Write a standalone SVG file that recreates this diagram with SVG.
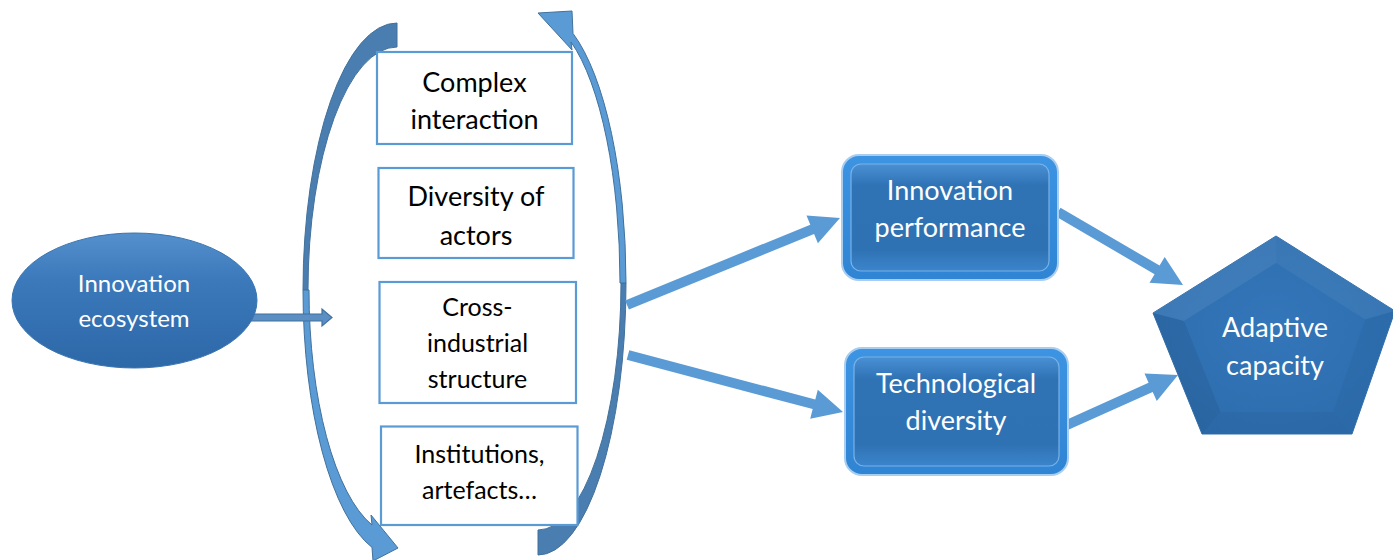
<svg xmlns="http://www.w3.org/2000/svg" width="1393" height="560" viewBox="0 0 1393 560">
<style>
  .lbl { font-family: Lato, "Liberation Sans", sans-serif; font-size: 27px; fill: #000; text-anchor: middle; }
  .wlbl { font-family: Lato, "Liberation Sans", sans-serif; font-size: 27px; fill: #fff; text-anchor: middle; }
  .box { fill: #fff; stroke: #5b9bd5; stroke-width: 2.2; }
  .thick { fill: #5b9bd5; }
  .cdark { fill: #4a7db0; stroke: #41719c; stroke-width: 1; }
  .clight { fill: #5b9bd5; stroke: #41719c; stroke-width: 1; }
  .frame { fill: url(#frameGrad); stroke: #a9cdef; stroke-width: 2; }
  .inner { fill: url(#innerGrad); stroke: #78b2e8; stroke-width: 1.2; }
</style>
<defs>
  <linearGradient id="ellGrad" x1="0" y1="0" x2="0" y2="1">
    <stop offset="0" stop-color="#5590cc"/>
    <stop offset="0.35" stop-color="#3b79bb"/>
    <stop offset="1" stop-color="#2d68a8"/>
  </linearGradient>
  <linearGradient id="frameGrad" x1="0" y1="0" x2="0" y2="1">
    <stop offset="0" stop-color="#3d94e2"/>
    <stop offset="1" stop-color="#2f84d4"/>
  </linearGradient>
  <linearGradient id="innerGrad" x1="0" y1="0" x2="0" y2="1">
    <stop offset="0" stop-color="#4a90d4"/>
    <stop offset="0.2" stop-color="#2f73b5"/>
    <stop offset="0.8" stop-color="#2f72b3"/>
    <stop offset="1" stop-color="#3b85cc"/>
  </linearGradient>
  <radialGradient id="pentGrad" cx="0.5" cy="0.45" r="0.6">
    <stop offset="0" stop-color="#3376b9"/>
    <stop offset="1" stop-color="#2d6dae"/>
  </radialGradient>
</defs>

<g id="connectors">
  <!-- left curved arrow -->
  <path class="cdark" d="M 397,23 A 94 267 0 0 0 303,290 L 308,290 A 89 243 0 0 1 397,47 Z"/>
  <path class="clight" d="M 303,290 A 94 267 0 0 0 372,547.4 L 373,561 L 398,548 L 371,515 L 372,525 A 88 245 0 0 1 309,290 Z"/>
  <!-- right curved arrow -->
  <path class="cdark" d="M 538,555 A 88 272 0 0 0 626,283 L 621,283 A 83 247 0 0 1 538,530 Z"/>
  <path class="clight" d="M 626,283 A 88 272 0 0 0 573,33.4 L 572,11 L 538,13 L 572,50 L 571,42 A 82 263 0 0 1 620,283 Z"/>
  <!-- small arrow from ecosystem -->
  <polygon points="250,314 322,314 322,309 332,317.5 322,326 322,321 250,321" fill="#5b8fc4" stroke="#41719c" stroke-width="1.2"/>
  <!-- thick arrows -->
  <polygon class="thick" points="628.9,309.6 814.1,233.9 817.9,243.2 840,218 806.5,215.4 810.3,224.7 625.1,300.4"/>
  <polygon class="thick" points="626.7,359.8 812.7,409.1 810.2,418.8 843,412 817.8,389.8 815.3,399.5 629.3,350.2"/>
  <polygon class="thick" points="1055.5,216.3 1154.6,274.2 1149.5,282.8 1183,285 1164.7,257 1159.6,265.6 1060.5,207.7"/>
  <polygon class="thick" points="1060,433.6 1152.7,391.9 1156.8,401 1178,375 1144.5,373.6 1148.6,382.7 1056,424.4"/>
</g>

<g id="ecosystem">
  <ellipse cx="134.5" cy="300.5" rx="122.5" ry="67.5" fill="url(#ellGrad)" stroke="#3a74b0" stroke-width="1"/>
  <text class="wlbl" style="font-size:24px" x="134" y="292">Innovation</text>
  <text class="wlbl" style="font-size:24px" x="134" y="327">ecosystem</text>
</g>

<g id="box-complex">
  <rect class="box" x="377" y="52" width="195" height="92"/>
  <text class="lbl" x="474.5" y="92">Complex</text>
  <text class="lbl" x="474.5" y="129">interaction</text>
</g>
<g id="box-diversity">
  <rect class="box" x="378.5" y="168" width="195" height="90"/>
  <text class="lbl" x="476" y="206">Diversity of</text>
  <text class="lbl" x="476" y="245">actors</text>
</g>
<g id="box-cross">
  <rect class="box" x="379.5" y="282" width="196.5" height="121"/>
  <text class="lbl" style="font-size:25px" x="477.5" y="316">Cross-</text>
  <text class="lbl" style="font-size:25px" x="477.5" y="352">industrial</text>
  <text class="lbl" style="font-size:25px" x="477.5" y="388">structure</text>
</g>
<g id="box-institutions">
  <rect class="box" x="381" y="426.5" width="196.5" height="98.5"/>
  <text class="lbl" style="font-size:25px" x="479.5" y="463">Institutions,</text>
  <text class="lbl" style="font-size:25px" x="479.5" y="499">artefacts…</text>
</g>

<g id="performance">
  <rect class="frame" x="842" y="155" width="216" height="125" rx="17"/>
  <rect class="inner" x="851" y="164" width="198" height="107" rx="10"/>
  <text class="wlbl" x="950" y="200">Innovation</text>
  <text class="wlbl" x="950" y="237">performance</text>
</g>

<g id="techdiversity">
  <rect class="frame" x="845" y="348" width="223" height="127" rx="17"/>
  <rect class="inner" x="854" y="357" width="205" height="109" rx="10"/>
  <text class="wlbl" x="956" y="393">Technological</text>
  <text class="wlbl" x="956" y="430">diversity</text>
</g>

<g id="adaptive">
  <polygon points="1276,236 1395,311 1352,434 1202,434 1153,313" fill="url(#pentGrad)" stroke="#3270ae" stroke-width="1"/>
  <polygon points="1276,236 1153,313 1184,321 1276,263" fill="#ffffff" opacity="0.07"/>
  <polygon points="1276,236 1395,311 1365,319.5 1276,263" fill="#ffffff" opacity="0.05"/>
  <polygon points="1153,313 1202,434 1220.5,412 1184,321" fill="#000000" opacity="0.07"/>
  <polygon points="1202,434 1352,434 1333,412 1220.5,412" fill="#000000" opacity="0.04"/>
  <polygon points="1395,311 1352,434 1333,412 1365,319.5" fill="#000000" opacity="0.03"/>
  <text class="wlbl" x="1275" y="337">Adaptive</text>
  <text class="wlbl" x="1275" y="375">capacity</text>
</g>
</svg>
